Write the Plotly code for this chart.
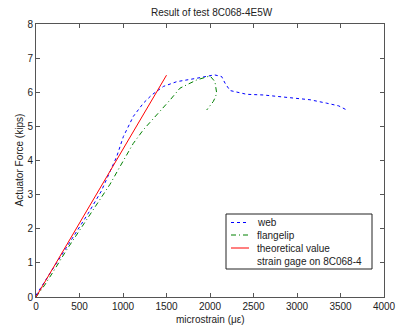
import plotly.graph_objects as go

web_x = [0, 50, 150, 300, 450, 600, 750, 870, 927, 1004, 1118, 1234, 1330, 1464, 1617, 1847, 2000, 2050, 2134, 2172, 2230, 2345, 2421, 2613, 2920, 3150, 3341, 3480, 3571]
web_y = [0.05, 0.25, 0.65, 1.25, 1.85, 2.45, 3.1, 3.77, 4.11, 4.7, 5.29, 5.68, 5.92, 6.17, 6.31, 6.41, 6.48, 6.51, 6.46, 6.27, 6.05, 5.99, 5.94, 5.92, 5.83, 5.78, 5.68, 5.6, 5.48]

flange_x = [0, 100, 200, 352, 500, 735, 850, 965, 1118, 1234, 1425, 1550, 1655, 1750, 1847, 1950, 2000, 2057, 2077, 2060, 2038, 1962]
flange_y = [0, 0.35, 0.75, 1.38, 1.95, 2.84, 3.3, 3.82, 4.5, 4.9, 5.43, 5.8, 6.12, 6.25, 6.36, 6.44, 6.48, 6.31, 5.97, 5.85, 5.73, 5.48]

theo_x = [0, 1500]
theo_y = [0, 6.5]

x_ticks = [0, 500, 1000, 1500, 2000, 2500, 3000, 3500, 4000]
y_ticks = [0, 1, 2, 3, 4, 5, 6, 7, 8]

legend_names = ["web", "flangelip", "theoretical value", "strain gage on 8C068-4"]
legend_colors = ["#0000ff", "#008000", "#ff0000", None]
legend_dash = ["3px,3px", "5px,3px,1px,3px", "solid", None]

fig = go.Figure()
fig.add_trace(go.Scatter(x=web_x, y=web_y, mode="lines", name=legend_names[0],
                         line=dict(color=legend_colors[0], width=1, dash=legend_dash[0])))
fig.add_trace(go.Scatter(x=flange_x, y=flange_y, mode="lines", name=legend_names[1],
                         line=dict(color=legend_colors[1], width=1, dash=legend_dash[1])))
fig.add_trace(go.Scatter(x=theo_x, y=theo_y, mode="lines", name=legend_names[2],
                         line=dict(color=legend_colors[2], width=1)))

font = dict(family="Arial", size=10, color="#222")
axis_common = dict(showgrid=False, zeroline=False, ticks="inside", ticklen=4,
                   tickcolor="#555", mirror="ticks", showline=True, linecolor="#555",
                   linewidth=1, tickfont=font, automargin=False)

# plot area in px: x 36..384, y 24..297
W, H = 348.0, 273.0
def px(x):
    return (x - 36) / W
def py(y):
    return (297 - y) / H

shapes = [dict(type="rect", xref="paper", yref="paper", x0=px(226), x1=px(372), y0=py(269), y1=py(214),
               line=dict(color="#222", width=1), fillcolor="white", layer="above")]
annotations = []
rows = [222.5, 235, 248, 261]
for name, col, dsh, ry in zip(legend_names, legend_colors, legend_dash, rows):
    if col is not None:
        shapes.append(dict(type="line", xref="paper", yref="paper", x0=px(231), x1=px(249), y0=py(ry), y1=py(ry),
                           line=dict(color=col, width=1, dash=dsh), layer="above"))
    annotations.append(dict(text=name, xref="paper", yref="paper", x=px(255), y=py(ry), xanchor="left",
                            yanchor="middle", showarrow=False, font=font))

annotations.append(dict(text="Result of test 8C068-4E5W", xref="paper", yref="paper", x=px(212), y=py(13),
                        xanchor="center", yanchor="middle", showarrow=False, font=font))
annotations.append(dict(text="microstrain (με)", xref="paper", yref="paper", x=px(210), y=py(319),
                        xanchor="center", yanchor="middle", showarrow=False, font=font))
annotations.append(dict(text="Actuator Force (kips)", xref="paper", yref="paper", x=px(18.5), y=py(160),
                        xanchor="center", yanchor="middle", textangle=-90, showarrow=False, font=font))

fig.update_layout(
    width=396, height=331,
    margin=dict(l=36, r=12, t=24, b=34),
    paper_bgcolor="white", plot_bgcolor="white",
    xaxis=dict(range=[0, 4000], tickvals=x_ticks, **axis_common),
    yaxis=dict(range=[0, 8], tickvals=y_ticks, **axis_common),
    showlegend=False,
    shapes=shapes,
    annotations=annotations,
)

fig.write_html("out.html", config={"displayModeBar": False},
               post_script="document.body.style.margin='0';")
